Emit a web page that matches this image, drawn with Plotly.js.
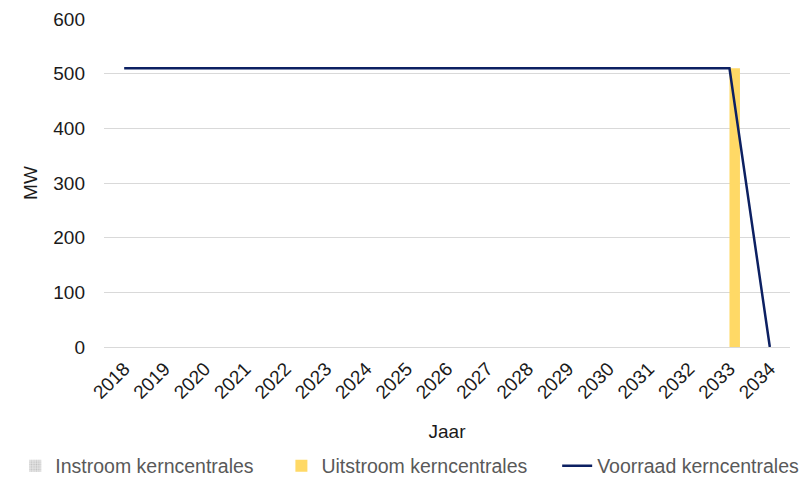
<!DOCTYPE html>
<html>
<head>
<meta charset="utf-8">
<script src="https://cdn.plot.ly/plotly-3.0.1.min.js"></script>
<style>html,body{margin:0;padding:0;background:#fff;}#chart{width:804px;height:479px;}</style>
</head>
<body>
<div id="chart"></div>
<script>
var years = ['2018','2019','2020','2021','2022','2023','2024','2025','2026','2027','2028','2029','2030','2031','2032','2033','2034'];
var instroom = [0,0,0,0,0,0,0,0,0,0,0,0,0,0,0,0,0];
var uitstroom = [0,0,0,0,0,0,0,0,0,0,0,0,0,0,0,510,0];
var voorraad = [510,510,510,510,510,510,510,510,510,510,510,510,510,510,510,510,0];

var fontFam = '"Liberation Sans", Arial, sans-serif';
var legFont = {size:19.5, color:'#595959', family:fontFam};
var data = [
  {type:'bar', name:'Instroom kerncentrales', x:years, y:instroom, legend:'legend',
   marker:{color:'#d9d9d9', pattern:{shape:'.', fgcolor:'#bfbfbf', bgcolor:'#e3e3e3', size:3, solidity:0.3}}},
  {type:'bar', name:'Uitstroom kerncentrales', x:years, y:uitstroom, legend:'legend2',
   marker:{color:'#ffd966'}},
  {type:'scatter', mode:'lines', name:'Voorraad kerncentrales', x:years, y:voorraad, legend:'legend3',
   line:{color:'#0c2062', width:2.5}}
];
var layout = {
  width:804, height:479,
  margin:{l:104, r:14, t:19, b:132},
  paper_bgcolor:'#fff', plot_bgcolor:'#fff',
  font:{family:fontFam, size:19, color:'#1a1a1a'},
  barmode:'group', bargap:0.48, bargroupgap:0,
  showlegend:true,
  legend:{orientation:'h', xref:'container', yref:'container', x:0.019, xanchor:'left', y:0.027, yanchor:'middle', font:legFont, bgcolor:'rgba(0,0,0,0)'},
  legend2:{orientation:'h', xref:'container', yref:'container', x:0.350, xanchor:'left', y:0.027, yanchor:'middle', font:legFont, bgcolor:'rgba(0,0,0,0)'},
  legend3:{orientation:'h', xref:'container', yref:'container', x:0.693, xanchor:'left', y:0.027, yanchor:'middle', font:legFont, bgcolor:'rgba(0,0,0,0)'},
  xaxis:{type:'category', tickmode:'array', tickvals:years, ticktext:years, tickangle:-45,
         showgrid:false, zeroline:false, showline:false,
         ticks:'', tickfont:{size:19, color:'#1a1a1a'}, ticklabelstandoff:6,
         title:{text:'Jaar', font:{size:19, color:'#1a1a1a'}, standoff:22}},
  yaxis:{range:[0,600], dtick:100, tick0:0, showgrid:true, gridcolor:'#d9d9d9', gridwidth:1,
         zeroline:true, zerolinecolor:'#d9d9d9', zerolinewidth:1, showline:false, ticks:'',
         tickfont:{size:19, color:'#1a1a1a'}, ticklabelstandoff:18,
         title:{text:'MW', font:{size:19, color:'#1a1a1a'}, standoff:10}}
};
Plotly.newPlot('chart', data, layout, {displayModeBar:false, staticPlot:true});
</script>
</body>
</html>
